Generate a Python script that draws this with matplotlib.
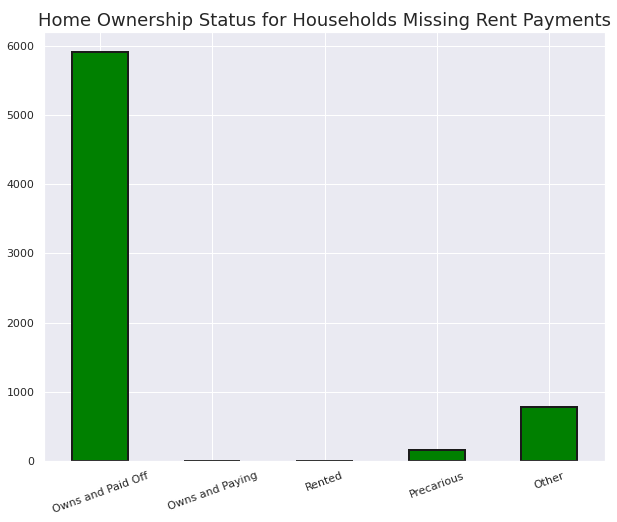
import matplotlib
matplotlib.use("Agg")
import matplotlib.pyplot as plt
import seaborn as sns
import pandas as pd

sns.set_theme(style="darkgrid")

categories = ["Owns and Paid Off", "Owns and Paying", "Rented", "Precarious", "Other"]
counts = [5911, 0, 0, 161, 786]

s = pd.Series(counts, index=categories)

fig = plt.figure(figsize=(617 / 72, 522 / 72), dpi=72)
ax = fig.add_axes([44 / 617, 61 / 522, 561 / 617, 429 / 522])
s.plot.bar(ax=ax, color="green", edgecolor="k", linewidth=2)
ax.set_title("Home Ownership Status for Households Missing Rent Payments", fontsize=18)
ax.set_ylim(0, 6200)
plt.setp(ax.get_xticklabels(), rotation=20)
fig.savefig("out.png", dpi=72)
